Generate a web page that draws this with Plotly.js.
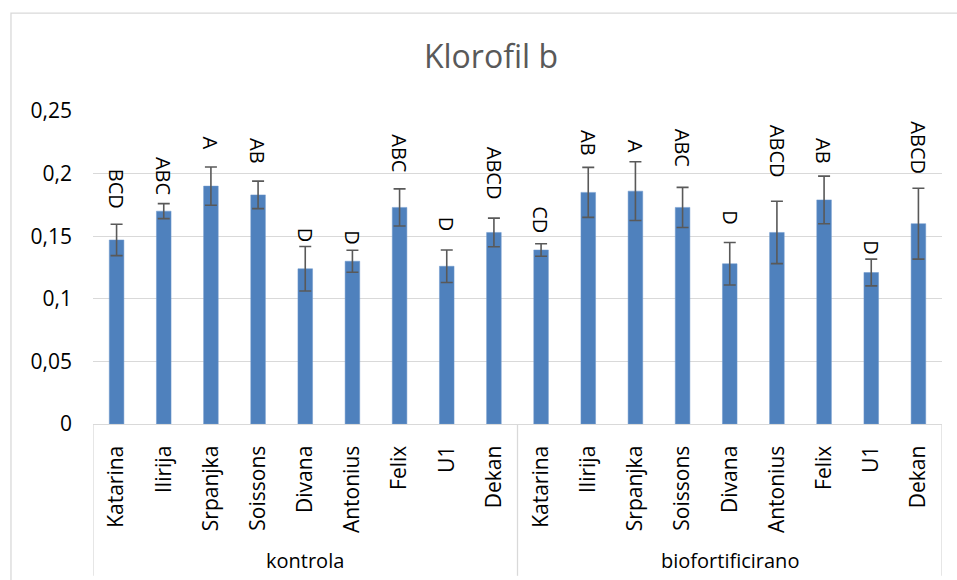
<!DOCTYPE html>
<html>
<head>
<meta charset="utf-8">
<script src="https://cdn.plot.ly/plotly-3.0.1.min.js"></script>
<style>html,body{margin:0;padding:0;background:#fff;}</style>
</head>
<body>
<div id="chart" style="width:957px;height:580px;"></div>
<script>
// ---- data ----
const groups = ["kontrola", "biofortificirano"];
const varieties = ["Katarina", "Ilirija", "Srpanjka", "Soissons", "Divana", "Antonius", "Felix", "U1", "Dekan"];
const kontrolaValues = [0.147, 0.170, 0.190, 0.183, 0.124, 0.130, 0.173, 0.126, 0.153];
const kontrolaErrors = [0.0125, 0.006, 0.0153, 0.011, 0.0178, 0.0088, 0.0148, 0.013, 0.0114];
const bioValues = [0.139, 0.185, 0.186, 0.173, 0.128, 0.153, 0.179, 0.121, 0.160];
const bioErrors = [0.005, 0.020, 0.0235, 0.016, 0.017, 0.0249, 0.019, 0.0107, 0.0283];
const kontrolaLetters = ["BCD", "ABC", "A", "AB", "D", "D", "ABC", "D", "ABCD"];
const bioLetters = ["CD", "AB", "A", "ABC", "D", "ABCD", "AB", "D", "ABCD"];
const yTickVals = [0, 0.05, 0.1, 0.15, 0.2, 0.25];
const yTickText = ["0", "0,05", "0,1", "0,15", "0,2", "0,25"];
// label gaps above error bar tops (px)
const labelGap = [16, 9, 17, 17, 4, 5, 17, 18, 18, 11, 11, 9, 21, 17, 23, 12, 4, 14];

// ---- build ----
const values = kontrolaValues.concat(bioValues);
const errors = kontrolaErrors.concat(bioErrors);
const letters = kontrolaLetters.concat(bioLetters);
const tickText = varieties.concat(varieties);
const xIdx = tickText.map((_, i) => i);

const FONT = "Open Sans, Noto Sans, DejaVu Sans, sans-serif";

const trace = {
  type: "bar",
  x: xIdx,
  y: values,
  width: 0.31,
  marker: {color: "#4F81BD", line: {color: "#6f98cc", width: 0.5}},
  error_y: {type: "data", array: errors, visible: true, color: "#595959", thickness: 1.6, width: 6},
  hoverinfo: "skip"
};

const annotations = [];
letters.forEach((t, i) => {
  annotations.push({
    x: i, y: values[i] + errors[i], xref: "x", yref: "y",
    text: t, showarrow: false, textangle: 90,
    xanchor: "center", yanchor: "bottom", yshift: labelGap[i] - 2,
    font: {family: FONT, size: 20, color: "#000000"}
  });
});
const n = varieties.length;
groups.forEach((g, gi) => {
  annotations.push({
    x: gi * n + (n - 1) / 2, y: -0.435, xref: "x", yref: "paper",
    text: g, showarrow: false, xanchor: "center", yanchor: "middle",
    font: {family: FONT, size: 20, color: "#000000"}
  });
});

const shapes = [];
[-0.5, n - 0.5, 2 * n - 0.5].forEach(xv => {
  shapes.push({type: "line", xref: "x", yref: "paper", x0: xv, x1: xv, y0: 0, y1: -0.485,
    line: {color: "#d9d9d9", width: 1.3}});
});
// outer chart border (extends beyond the visible area at right/bottom)
shapes.push({type: "rect", xref: "paper", yref: "paper", x0: -0.0966, x1: 1.2, y0: -0.7, y1: 1.313,
  line: {color: "#d9d9d9", width: 1.3}, fillcolor: "rgba(0,0,0,0)"});

const layout = {
  width: 957, height: 580,
  margin: {l: 93, r: 15, t: 111, b: 156},
  paper_bgcolor: "#ffffff", plot_bgcolor: "#ffffff",
  showlegend: false,
  title: {text: "Klorofil b", x: 0.513, xanchor: "center", y: 0.902, yanchor: "middle",
    font: {family: FONT, size: 32, color: "#595959"}},
  xaxis: {
    type: "linear", range: [-0.5, 2 * n - 0.5],
    tickmode: "array", tickvals: xIdx, ticktext: tickText, tickangle: -90,
    ticks: "", ticklabelstandoff: 12,
    showgrid: false, zeroline: false, showline: true, linecolor: "#d9d9d9", linewidth: 1.3,
    tickfont: {family: FONT, size: 21, color: "#000000"}, fixedrange: true
  },
  yaxis: {
    range: [0, 0.25], tickmode: "array", tickvals: yTickVals, ticktext: yTickText,
    ticks: "", ticklabelstandoff: 20,
    showgrid: true, gridcolor: "#d9d9d9", gridwidth: 1.3, zeroline: false, showline: false,
    tickfont: {family: FONT, size: 21, color: "#000000"}, fixedrange: true
  },
  annotations: annotations,
  shapes: shapes
};

Plotly.newPlot("chart", [trace], layout, {displayModeBar: false, staticPlot: true});
</script>
</body>
</html>
